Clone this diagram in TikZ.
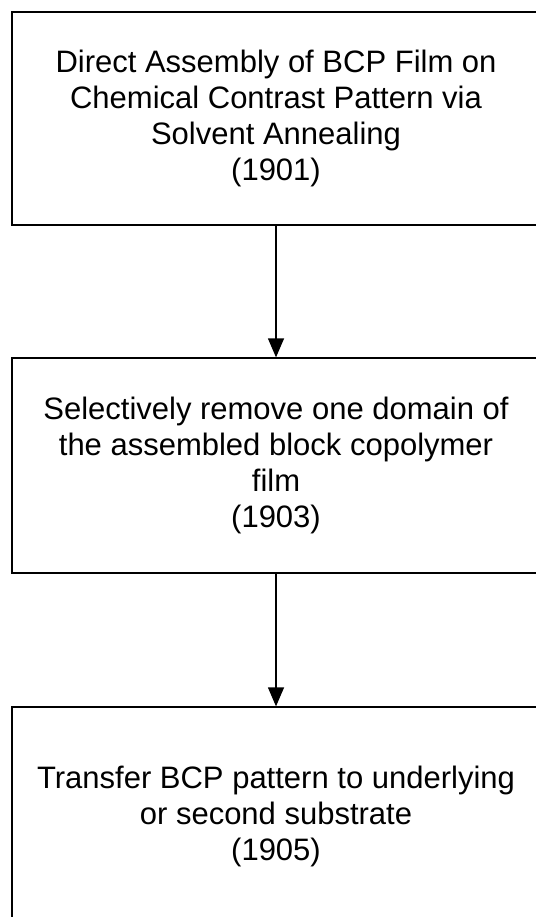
\documentclass[tikz,border=0pt]{standalone}
\usepackage{fontspec}
\setmainfont{Liberation Sans}
\usepackage{tikz}
\usetikzlibrary{arrows.meta}

\tikzset{
  box/.style={draw=black, line width=1.3pt, minimum width=528pt, inner sep=0pt,
    align=center, font=\fontsize{31}{36}\selectfont},
  flow/.style={line width=1.3pt, -{Triangle[length=19pt,width=16pt]}}
}

\begin{document}
\begin{tikzpicture}[x=1pt,y=-1pt]
  \useasboundingbox (0,0) rectangle (535,917);
  % the three steps
  \node[box, minimum height=213pt] (b1901) at (276,118.5)
    {Direct Assembly of BCP Film on\\Chemical Contrast Pattern via\\Solvent Annealing\\(1901)};
  \node[box, minimum height=215pt] (b1903) at (276,465.5)
    {Selectively remove one domain of\\the assembled block copolymer\\film\\(1903)};
  \node[box, minimum height=218pt] (b1905) at (276,816)
    {Transfer BCP pattern to underlying\\or second substrate\\(1905)};
  % arrows
  \draw[flow] (b1901.south) -- (b1903.north);
  \draw[flow] (b1903.south) -- (b1905.north);
\end{tikzpicture}
\end{document}
